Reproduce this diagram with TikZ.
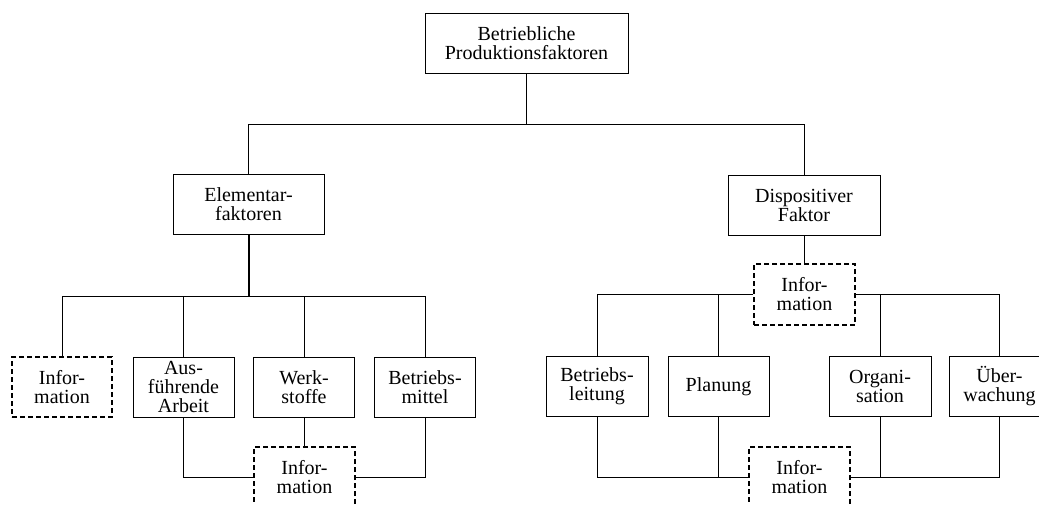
\documentclass[tikz,border=0pt]{standalone}
\usepackage{fontspec}
\setmainfont{Liberation Serif}
\begin{document}
\begin{tikzpicture}[x=1pt,y=-1pt,
  box/.style={draw, line width=1pt, align=center, inner sep=0pt,
    font=\fontsize{20}{19}\selectfont, minimum height=60pt, minimum width=101pt},
  infobox/.style={box, dash pattern=on 5pt off 3pt, line width=1.8pt},
  link/.style={line width=1pt},
  trunk/.style={line width=2pt}]
\clip (0,0) rectangle (1039,504);
\useasboundingbox (0,0) rectangle (1039,504);

% level 0 and 1
\node[box, minimum width=203pt] (top) at (526.5,43) {Betriebliche\\Produktionsfaktoren};
\node[box, minimum width=151pt] (elem) at (248.5,204.5) {Elementar-\\faktoren};
\node[box, minimum width=152pt] (disp) at (804,205) {Dispositiver\\Faktor};

\coordinate (busA) at (0,124);
\coordinate (busL) at (0,296);
\coordinate (loop) at (0,477);

\draw[link] (top.south) -- (top.south |- busA);
\draw[link] (elem.north) -- (elem.north |- busA) -- (disp.north |- busA) -- (disp.north);

% elementary factors
\node[infobox, minimum width=100pt] (info1) at (62,387) {Infor-\\mation};
\node[box] (aus) at (183.5,387) {Aus-\\führende\\Arbeit};
\node[box] (werk) at (304,387) {Werk-\\stoffe};
\node[box] (bmit) at (425,387) {Betriebs-\\mittel};
\node[infobox] (info2) at (304.5,477) {Infor-\\mation};

\draw[trunk] (elem.south) -- (elem.south |- busL);
\draw[link] (info1.north) -- (info1.north |- busL) -- (bmit.north |- busL) -- (bmit.north);
\draw[link] (aus.north) -- (aus.north |- busL);
\draw[link] (werk.north) -- (werk.north |- busL);
\draw[link] (aus.south) -- (aus.south |- loop) -- (info2.west |- loop);
\draw[link] (werk.south) -- (werk.south |- info2.north);
\draw[link] (bmit.south) -- (bmit.south |- loop) -- (info2.east |- loop);

% dispositive factor
\node[infobox, minimum height=61pt] (info3) at (804.5,294.5) {Infor-\\mation};
\node[box, minimum width=102pt] (leit) at (597,386.5) {Betriebs-\\leitung};
\node[box] (plan) at (718.5,386.5) {Planung};
\node[box, minimum width=102pt] (orga) at (880,386.5) {Organi-\\sation};
\node[box] (ueber) at (999.5,386.5) {Über-\\wachung};
\node[infobox] (info4) at (799.5,477) {Infor-\\mation};

\draw[link] (disp.south) -- (disp.south |- info3.north);
\draw[link] (info3.west) -- (leit.north |- info3.west) -- (leit.north);
\draw[link] (plan.north) -- (plan.north |- info3.west);
\draw[link] (info3.east) -- (ueber.north |- info3.east) -- (ueber.north);
\draw[link] (orga.north) -- (orga.north |- info3.east);
\draw[link] (leit.south) -- (leit.south |- loop) -- (info4.west |- loop);
\draw[link] (plan.south) -- (plan.south |- loop);
\draw[link] (ueber.south) -- (ueber.south |- loop) -- (info4.east |- loop);
\draw[link] (orga.south) -- (orga.south |- loop);
\end{tikzpicture}
\end{document}
